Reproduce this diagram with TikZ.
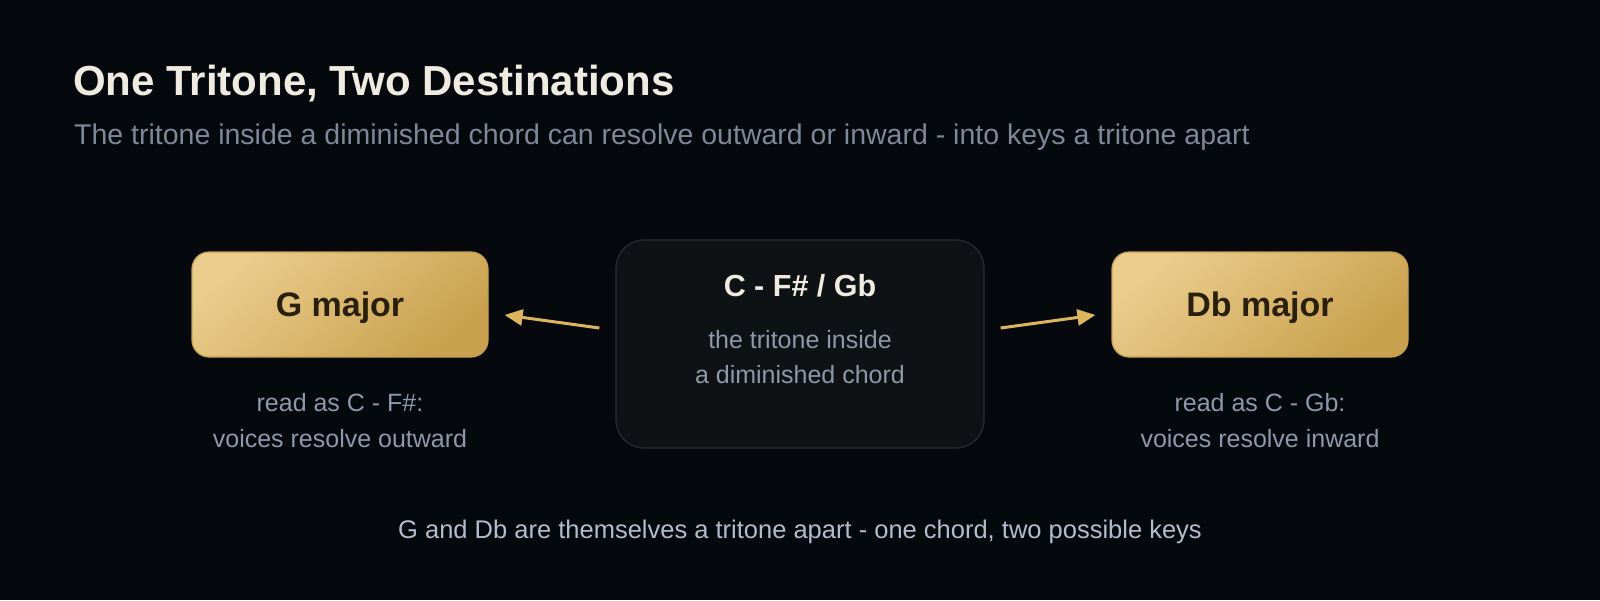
\documentclass[tikz,border=0pt]{standalone}
\usepackage{fontspec}
\setmainfont{Liberation Sans}
\usetikzlibrary{calc,arrows.meta}
\definecolor{bgc}{HTML}{05080D}
\definecolor{titlec}{HTML}{F0EBE0}
\definecolor{subc}{HTML}{7E8899}
\definecolor{capc}{HTML}{8E98AA}
\definecolor{footc}{HTML}{B4BCCB}
\definecolor{goldl}{HTML}{EACD8C}
\definecolor{goldd}{HTML}{C9A14E}
\definecolor{goldb}{HTML}{C6A050}
\definecolor{darktxt}{HTML}{2A1F0C}
\definecolor{cfill}{HTML}{0F1215}
\definecolor{cdraw}{HTML}{2A2D31}
\definecolor{arrc}{HTML}{DDB55C}
\tikzset{
  keybox/.style={rounded corners=17pt, minimum width=296pt, minimum height=105pt,
    top color=goldl, bottom color=goldd, shading angle=40, draw=goldb, line width=1.2pt,
    inner sep=0pt},
  keytxt/.style={text=darktxt, font=\fontsize{34}{40}\selectfont\bfseries, inner sep=0pt},
  centerbox/.style={rounded corners=28pt, minimum width=368pt, minimum height=208pt,
    fill=cfill, draw=cdraw, line width=1.2pt, inner sep=0pt},
  captxt/.style={text=capc, font=\fontsize{25}{30}\selectfont, inner sep=0pt},
  conn/.style={draw=arrc, line width=3pt, -{Triangle[length=18pt,width=16pt]}}
}
\begin{document}
\begin{tikzpicture}[x=1pt,y=-1pt]
\fill[bgc] (0,0) rectangle (1600,600);
\useasboundingbox (0,0) rectangle (1600,600);
\node[anchor=base west, text=titlec, font=\fontsize{42}{48}\selectfont\bfseries, inner sep=0pt] (title) at (73,95) {One Tritone, Two Destinations};
\node[anchor=base west, text=subc, font=\fontsize{28.5}{32}\selectfont, inner sep=0pt] (sub) at (74,144) {The tritone inside a diminished chord can resolve outward or inward - into keys a tritone apart};
\node[keybox] (G) at (340,304.5) {};
\node[keybox] (D) at (1260,304.5) {};
\node[anchor=base, keytxt] (gt) at (340,316) {G major};
\node[anchor=base, keytxt] (dt) at (1260,316) {Db major};
\node[centerbox] (C) at (800,344) {};
\node[anchor=base, text=titlec, font=\fontsize{30.5}{36}\selectfont\bfseries, inner sep=0pt] (ct) at (800,296) {C - F\# / Gb};
\node[anchor=base, captxt] (c1) at (800,348) {the tritone inside};
\node[anchor=base, captxt] (c2) at (800,383) {a diminished chord};
\node[anchor=base, captxt] (g1) at (340,411) {read as C - F\#:};
\node[anchor=base, captxt] (g2) at (340,447) {voices resolve outward};
\node[anchor=base, captxt] (d1) at (1260,411) {read as C - Gb:};
\node[anchor=base, captxt] (d2) at (1260,447) {voices resolve inward};
\node[anchor=base, text=footc, font=\fontsize{25.5}{30}\selectfont, inner sep=0pt] (foot) at (800,538) {G and Db are themselves a tritone apart - one chord, two possible keys};
\coordinate (aLs) at ($(C.west)+(-16,-16)$);
\coordinate (aLe) at ($(G.east)+(16,10.5)$);
\coordinate (aRs) at ($(C.east)+(16,-16)$);
\coordinate (aRe) at ($(D.west)+(-16,10.5)$);
\draw[conn] (aLs) -- (aLe);
\draw[conn] (aRs) -- (aRe);
\end{tikzpicture}
\end{document}
